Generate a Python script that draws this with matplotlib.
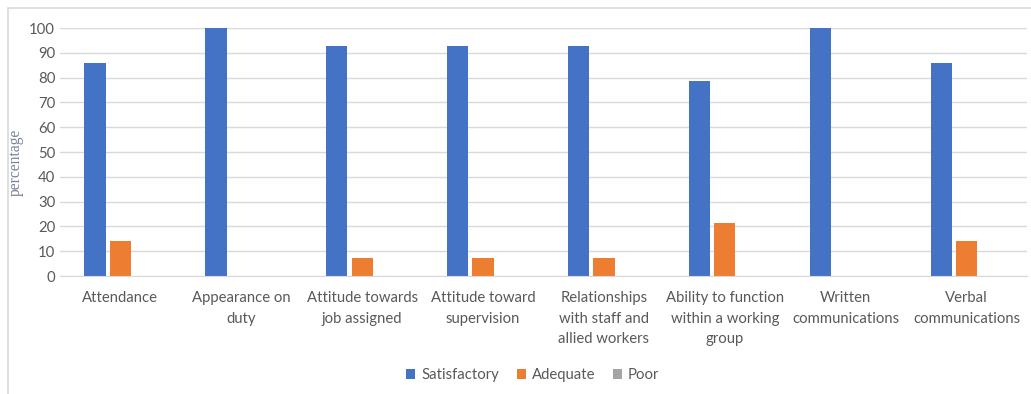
import numpy as np
import matplotlib.pyplot as plt
from matplotlib.patches import Rectangle

categories = ['Attendance', 'Appearance on\nduty', 'Attitude towards\njob assigned',
              'Attitude toward\nsupervision', 'Relationships\nwith staff and\nallied workers',
              'Ability to function\nwithin a working\ngroup', 'Written\ncommunications',
              'Verbal\ncommunications']
satisfactory = [85.7, 100, 92.9, 92.9, 92.9, 78.6, 100, 85.7]
adequate = [14.3, 0, 7.1, 7.1, 7.1, 21.4, 0, 14.3]
poor = [0, 0, 0, 0, 0, 0, 0, 0]
yticks = [0, 10, 20, 30, 40, 50, 60, 70, 80, 90, 100]

plt.rcParams['font.family'] = ['Lato', 'DejaVu Sans']

fig = plt.figure(figsize=(10.31, 3.94), dpi=100)
# chart border (light grey frame, cropped at right and bottom)
fig.patches.append(Rectangle((8 / 1031, -0.05), 1.1, 1 - 8 / 394 + 0.05,
                             transform=fig.transFigure, fill=False,
                             edgecolor='#d9d9d9', linewidth=1.2))

ax = fig.add_axes([60 / 1031, 1 - 276 / 394, 967 / 1031, 248 / 394])

x = np.arange(len(categories))
w = 0.175
step = 0.21
ax.bar(x - step, satisfactory, w, color='#4472c4', label='Satisfactory')
ax.bar(x, adequate, w, color='#ed7d31', label='Adequate')
ax.bar(x + step, poor, w, color='#a5a5a5', label='Poor')

ax.set_xlim(-0.5, len(categories) - 0.5)
ax.set_ylim(0, 100)
ax.set_yticks(yticks)
ax.yaxis.grid(True, color='#d9d9d9', linewidth=1)
ax.set_axisbelow(True)
for s in ['top', 'right', 'left']:
    ax.spines[s].set_visible(False)
ax.spines['bottom'].set_color('#d9d9d9')
ax.tick_params(axis='both', length=0, colors='#595959', labelsize=10.7)
ax.tick_params(axis='x', pad=11)
ax.set_xticks(x)
ax.set_xticklabels(categories, linespacing=1.6)

ax.set_ylabel('percentage', family='Liberation Serif', fontsize=11.2,
              color='#7a8396')
ax.yaxis.set_label_coords(-0.037, 0.46)

leg = ax.legend(loc='center', bbox_to_anchor=(0.489, -0.40), ncol=3, frameon=False,
                fontsize=10.7, handlelength=0.6, handleheight=0.6, handletextpad=0.4,
                columnspacing=1.2)
for t in leg.get_texts():
    t.set_color('#595959')

fig.savefig('out.png', dpi=100)
